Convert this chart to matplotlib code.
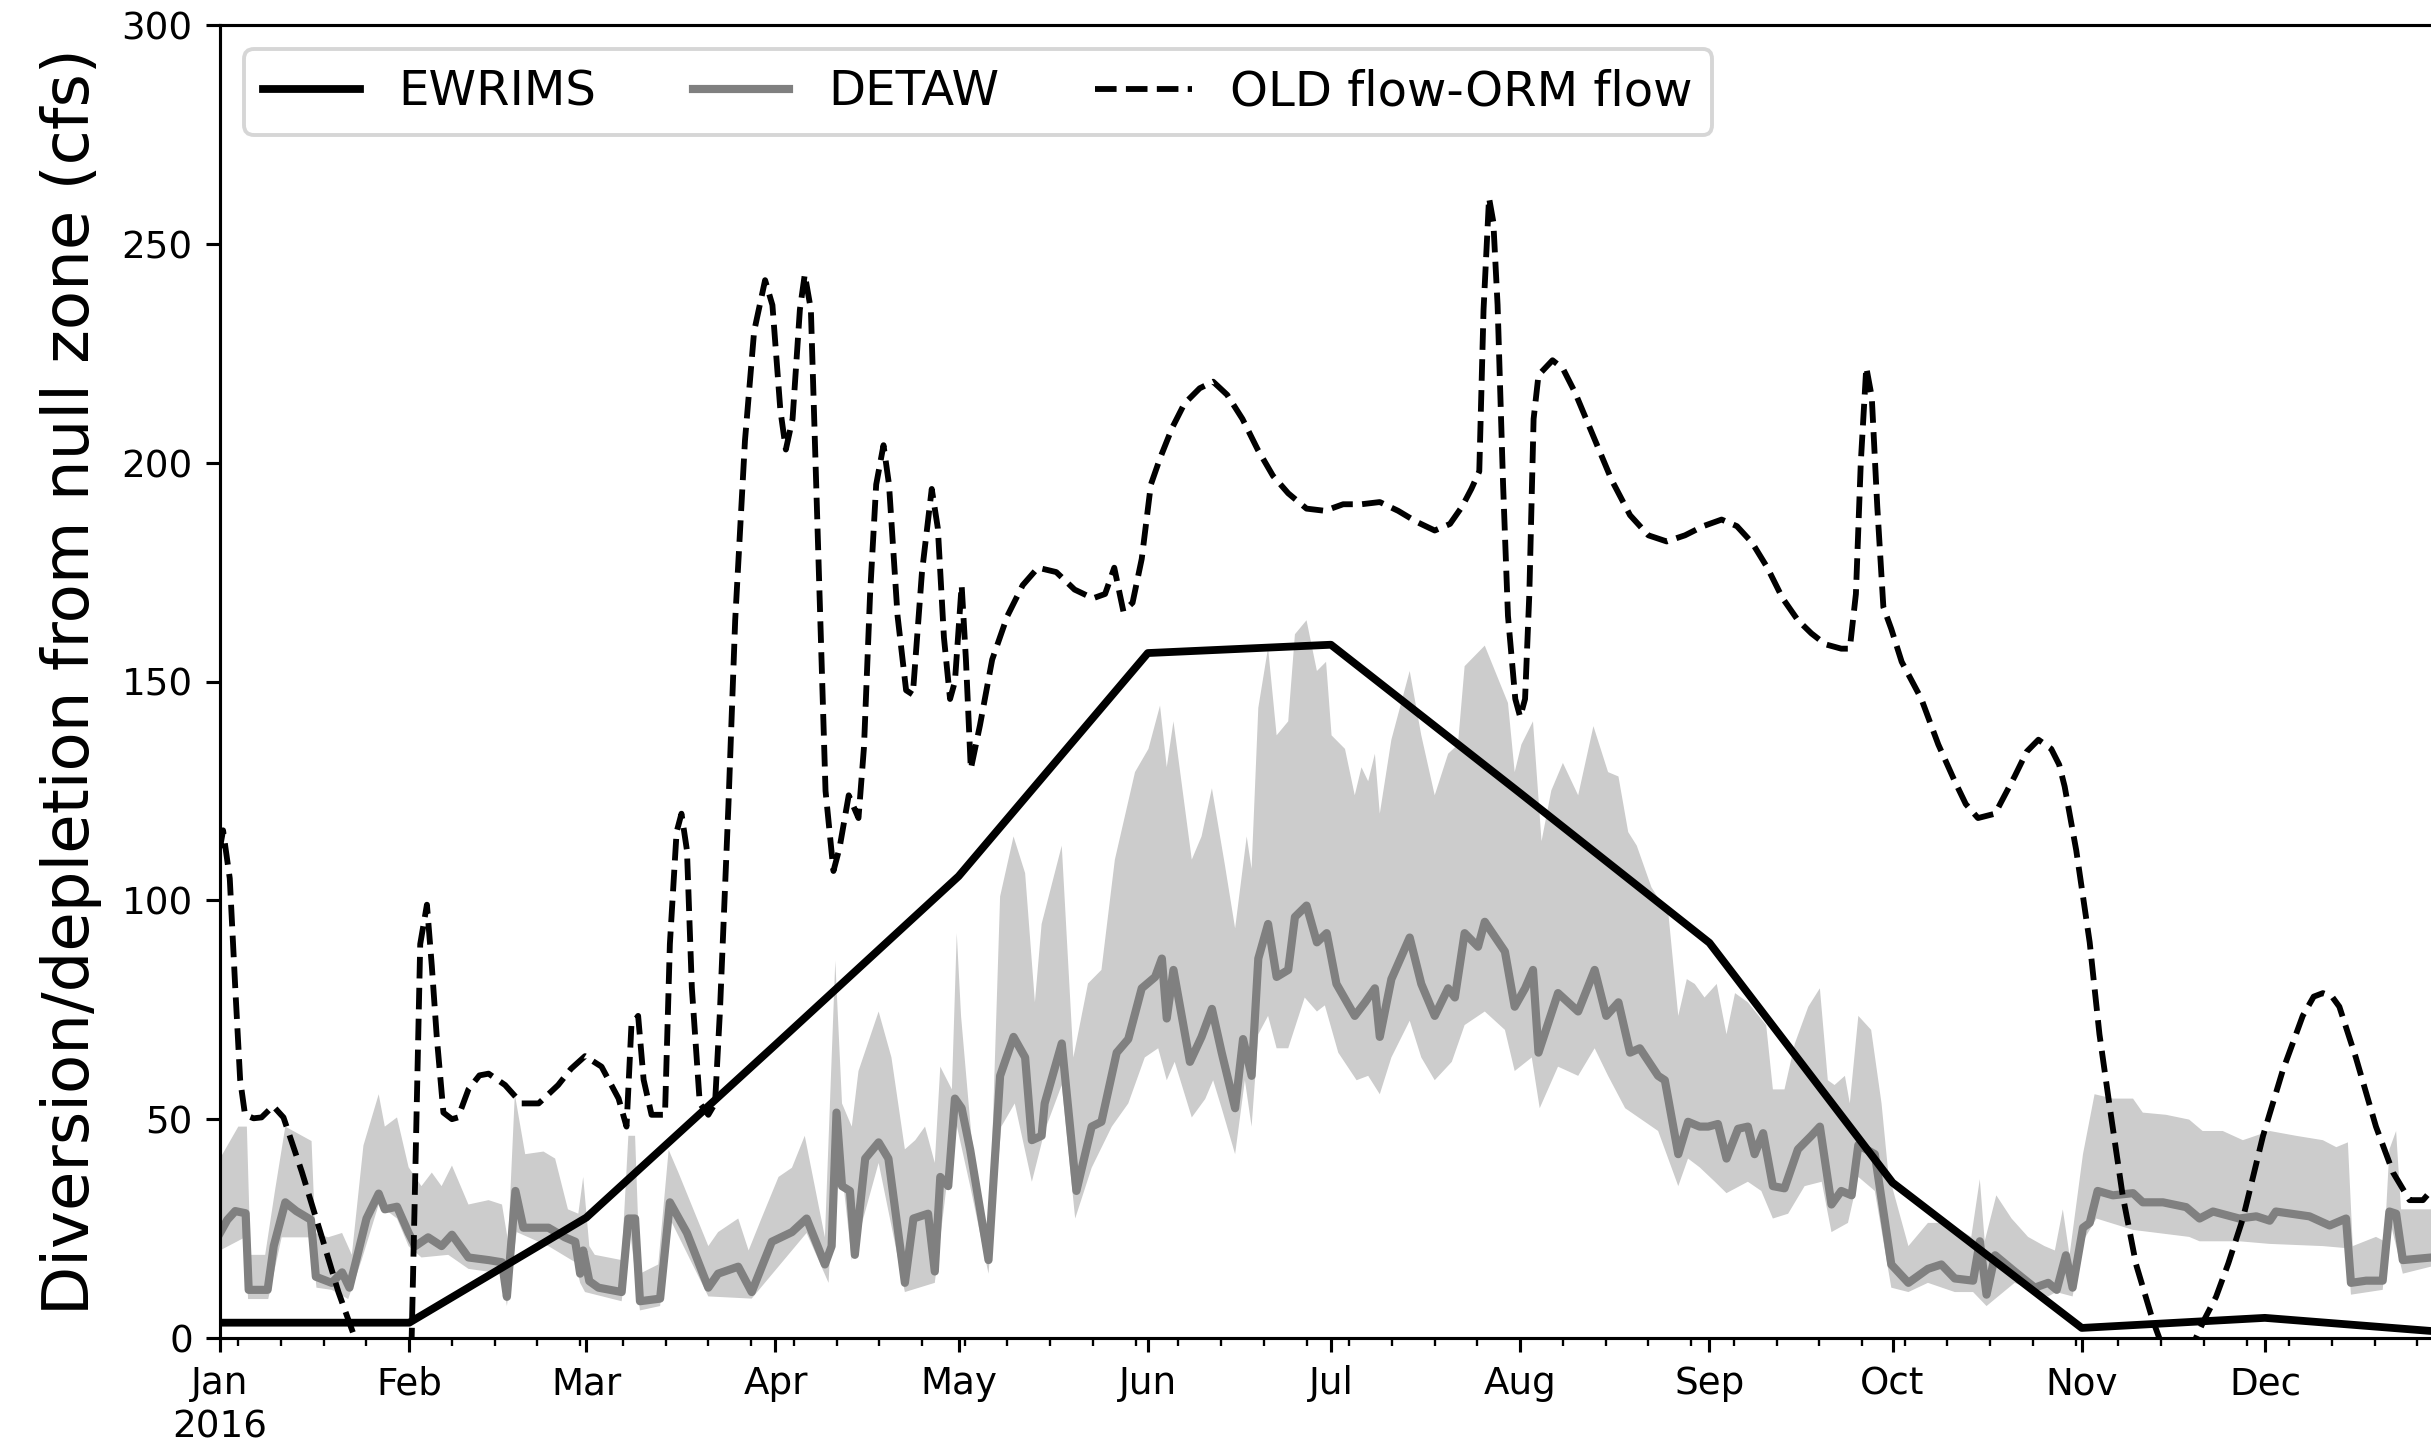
import numpy as np
import matplotlib
matplotlib.use("Agg")
import matplotlib.pyplot as plt
import matplotlib.dates as mdates

# x values are days after 2016-01-01, y values in cfs

# EWRIMS monthly diversion
ewrims_days = [0, 31, 60, 91, 121, 152, 182, 213, 244, 274, 305, 335, 365]
ewrims_cfs = [3.5, 3.5, 27.5, 67, 105.5, 156.5, 158.4, 124.5, 90.3, 35.5, 2.3, 4.6, 1.3]

# DETAW daily depletion (median line)
detaw_days = [0, 1.2, 2.5, 4.2, 4.7, 7.8, 8.8, 10.7, 12.5, 14.9, 15.7, 18.3, 20, 21.2,
              22.7, 24, 26, 27, 29, 30.9, 32, 34.1, 36.3, 38, 40.7, 44, 46.2, 47, 48.4,
              49.7, 53.8, 56.5, 58.2, 59, 59.5, 60.5, 62, 65.8, 66.9, 68, 68.8, 72.1,
              73.7, 76.5, 80, 81.6, 84.9, 87.1, 90.4, 93.7, 96.1, 99.1, 100.2, 101,
              101.9, 103.2, 104, 105.7, 107.9, 109.5, 112.2, 113.6, 116, 117.1, 118,
              119.3, 120.4, 121.5, 122.9, 125.9, 127.8, 130, 131.9, 133, 134.6, 135.1,
              137.9, 140.3, 142.8, 144.4, 146.9, 148.8, 151, 153.2, 154.3, 155.1, 156.2,
              158.9, 160.8, 162.5, 164.1, 166.3, 167.6, 169, 170.1, 171.7, 173.1, 175,
              176.1, 178, 179.7, 181.3, 182.9, 185.9, 187.6, 189.2, 190, 191.9, 194.9,
              196.8, 199, 201.2, 202.3, 203.9, 206.1, 207.2, 210.5, 212.1, 213.8, 215.1,
              216, 219.2, 222.5, 225.2, 227.1, 229.1, 231, 232.6, 235.6, 236.7, 238.9,
              240.5, 242.4, 243.8, 245.4, 246.8, 248.7, 250.3, 251.4, 252.8, 254.4,
              256.3, 258.5, 260.7, 262.1, 264, 265.6, 267.3, 268.4, 271.1, 273.8, 276.6,
              279.8, 282, 284.2, 287.2, 288.3, 289.4, 290.8, 294, 297.3, 299.5, 300.9,
              302.4, 303.5, 305.2, 306.3, 307.6, 310.1, 313.4, 315, 318.3, 322.1, 324.3,
              326.5, 330.8, 333.6, 335.8, 336.8, 342.3, 345.6, 348.3, 349.1, 351.6,
              354.3, 355.4, 356.5, 357.6, 362.2, 365]
detaw_cfs = [24, 27, 29, 28.5, 11, 11, 21, 31, 29, 27, 14, 12.6, 15, 11.5,
             20, 27.3, 33, 29.4, 30, 24, 21, 23, 21, 23.6, 18.4, 17.8, 17.3, 9.4, 33.6,
             25.2, 25.2, 23, 22, 14.7, 20, 13, 11.5, 10.5, 27.3, 27.3, 8.4, 9,
             31, 24, 11.5, 14.7, 16.3, 10.5, 22, 24.2, 27.3, 16.8, 21, 51.5,
             34.7, 33.6, 19, 41, 44.7, 41, 12.6, 27.3, 28.4, 15.2, 36.8,
             34.7, 54.7, 52.5, 43, 17.8, 59.9, 68.8, 64.1, 45.2, 46.2, 53.6,
             67.3, 33.6, 48.3, 49.4, 65.2, 68.3, 79.9, 82.5, 86.7, 73, 84.1,
             63.1, 68.8, 75.2, 65.2, 52.5, 68.3, 59.9, 86.7, 94.6, 82.5, 84.1,
             96.2, 98.8, 90.4, 92.5, 80.9, 73.6, 76.7, 79.9, 68.8, 82, 91.5,
             80.9, 73.6, 79.9, 77.8, 92.5, 89.4, 95.1, 88.3, 75.7, 79.9, 84.1,
             65.2, 78.8, 74.6, 84.1, 73.6, 76.7, 65.2, 66.2, 59.9, 58.9, 42,
             49.4, 48.3, 48.3, 48.9, 41, 47.8, 48.3, 42, 46.8, 34.7,
             34.2, 43.1, 46.2, 48.3, 30.5, 33.6, 32.6, 44.1, 42, 16.8, 12.6,
             15.8, 16.8, 13.6, 13.1, 22.1, 9.9, 18.9, 15.2, 11.5, 12.6, 11,
             18.9, 11.5, 25.2, 26.3, 33.6, 32.6, 33.1, 31, 31, 29.9, 27.3,
             28.9, 27.3, 27.8, 26.8, 28.9, 27.8, 25.7, 27.3, 12.6, 13.1,
             13.1, 28.9, 28.4, 17.8, 18.4, 18.5]

# DETAW range, upper edge
band_hi_days = [0, 3, 4.4, 5, 7.4, 9, 10.7, 15, 15.6, 17.7, 20, 21.6, 23.5, 26, 27, 29,
                30.9, 33, 34.7, 36.3, 38, 40.7, 44, 46.2, 47.2, 48.3, 50, 53, 54.9, 57,
                58.7, 59.5, 60.5, 61.4, 65.8, 66.9, 68, 68.8, 71.8, 73.5, 75.1, 80,
                81.6, 84.9, 86.6, 88.7, 91.5, 93.7, 95.8, 99.1, 100.8, 101.9, 103.5,
                104.6, 107.9, 110, 112.2, 113.9, 115.5, 117.1, 118, 119.9, 120.7, 121.4,
                123.1, 125.9, 127.8, 130, 131.9, 133.5, 134.6, 137.9, 139.8, 142.2,
                144.4, 146.6, 149.9, 152.1, 154, 155.1, 156.2, 159.2, 160.8, 162.5,
                164.6, 166.3, 168.2, 169, 170.1, 171.7, 173.1, 175, 176.1, 178, 179.7,
                181.2, 182.1, 184.3, 185.9, 187, 188.1, 189.2, 190, 191.9, 194.9, 196.8,
                199, 201.2, 202.8, 203.9, 207.2, 211, 212.1, 213.2, 215.1, 216.5, 218.1,
                220, 222.5, 225, 227.4, 229.1, 230.7, 232.1, 234.5, 237.3, 238.9, 240.3,
                241.6, 243.2, 245.2, 246.8, 248.2, 250.3, 253.3, 254.4, 256.3, 258,
                260.2, 262.1, 263.4, 264.5, 266.2, 267, 268.4, 270.5, 272.2, 273.3,
                276.6, 279.8, 283.1, 286.9, 288.3, 289.1, 291, 293.5, 296.2, 298.9,
                300.6, 301.9, 303, 305.2, 307.1, 310.1, 313.4, 315, 318.8, 322.6, 324.8,
                328.1, 331.4, 335.8, 340.1, 344.5, 346.7, 348.6, 349.4, 353.2, 354.6,
                355.4, 356.5, 357.3, 362.2, 365]
band_hi = [41, 48.3, 48.3, 19, 19, 33.6, 48.3, 45, 24, 23, 24, 19, 44, 55.7, 48.3, 50.4,
           39, 34.7, 37.8, 34.7, 39.4, 30.5, 31.5, 30.5, 22, 55.7, 42, 42.6, 41, 29.4,
           28.4, 36.8, 21, 19, 17.8, 46.2, 46.2, 14.7, 16.8, 43, 37.8, 21,
           24.2, 27.3, 20, 27.3, 36.8, 38.9, 46.2, 23, 86.2, 53.6, 48.3,
           61, 74.6, 64.1, 43.1, 45.2, 48.3, 40, 62, 56.8, 92.5, 73.6,
           46.2, 17.8, 100.9, 114.6, 106.2, 76.7, 94.6, 112.5, 64.1, 81,
           84.1, 109.3, 129.3, 134.6, 144.5, 130.4, 140.9, 109.3, 114.6, 125.6,
           108.3, 93.6, 114.6, 107.2, 144, 157.7, 137.7, 140.9, 160.8, 164, 152.4,
           154.5, 137.7, 134.6, 124, 130.4, 127.2, 133.5, 119.8, 136.7, 152.4, 137.7,
           124, 133.5, 135.6, 153.5, 158.2, 145.1, 129.3, 135.6, 140.9, 113.5, 125.1,
           131.4, 124, 139.8, 129.3, 128.3, 115.6, 112.5, 103, 96.7, 73.6, 82,
           80.9, 77.8, 80.9, 69.4, 78.8, 76.7, 71.5, 56.8, 56.8, 67.3,
           75.7, 79.9, 58.9, 57.8, 59.9, 53.6, 73.6, 70.4, 53.6, 37.8,
           21, 26.3, 26.3, 23.1, 36.3, 22.1, 32.6, 27.3, 23.1, 21,
           20, 29.4, 18.9, 42, 55.7, 54.7, 54.7, 51.5, 51, 49.9, 47.3,
           47.3, 45.2, 47.3, 46.2, 45.2, 43.6, 44.7, 21, 23.1, 22.1,
           43.1, 47.3, 29.4, 29.4, 29.4]

# DETAW range, lower edge
band_lo_days = [0, 4.1, 4.6, 7.9, 10.1, 15, 15.8, 18.3, 21, 23.2, 26, 29, 30.9, 33, 37.4,
                40.7, 46.2, 47, 48.6, 53.8, 58.2, 59, 59.8, 65.8, 67.2, 68.8, 72.1, 73.7,
                80, 87.1, 93.7, 96.1, 99.7, 101, 103.5, 107.9, 112.2, 117.1, 120.4,
                122.9, 125.9, 128, 130.2, 133, 135.1, 137.9, 140.1, 142.8, 146.1, 148.8,
                151.5, 153.7, 155.1, 156.4, 159.2, 161.4, 162.7, 164.1, 166.3, 167.9,
                169, 170.1, 171.7, 173.1, 175, 177.7, 179.7, 181, 183.2, 186.2, 188.1,
                190, 191.9, 194.9, 196.8, 199, 201.8, 203.9, 207.2, 210.5, 212.1, 214.9,
                216.2, 219.2, 222.5, 225.2, 227.4, 230.2, 235.6, 238.9, 240.5, 242.4,
                244.9, 246.8, 250.3, 252.5, 254.4, 256.9, 259.6, 262.4, 264, 266.7,
                268.4, 271.1, 273.8, 276.6, 279.8, 284.2, 287.2, 289.4, 294, 299.5,
                300.8, 303.5, 305.2, 307.4, 313.4, 322.6, 324.3, 330.8, 335.8, 344.5,
                348.6, 349.1, 354.3, 355.4, 357.6, 362.2, 365]
band_lo = [20, 23, 8.9, 8.9, 23, 23, 11.5, 11, 8.9, 17.8, 30.5, 27.3, 21, 18.4, 19,
           15.8, 14.7, 7.3, 24.2, 21, 17.3, 12.6, 10.5, 8.4, 24, 6.3, 7.3, 27.3,
           9.5, 9, 20, 24, 12.6, 49.4, 17.8, 40, 10.5, 12.6, 50.4,
           34.7, 14.7, 48.3, 53.6, 35.7, 47.3, 57.8, 27.3, 38.9, 48.3, 53.6,
           64.1, 66.2, 58.9, 63.1, 50.4, 54.6, 58.9, 52.5, 42, 58.9,
           48.3, 69.4, 73.6, 66.2, 66.2, 77.8, 74.6, 76, 65.2, 58.9, 59.9,
           55.7, 64.1, 72.5, 64.1, 58.9, 63.1, 71.5, 74.6, 70.4, 61, 64.1,
           52.5, 62, 59.9, 66.2, 59.9, 52.5, 47.3, 34.7, 41, 39,
           35.7, 33.1, 35.7, 33.6, 27.3, 28.4, 34.7, 35.7, 24.2, 26.3,
           36.8, 33.6, 11.5, 10.5, 12.6, 10.5, 10.5, 7.3, 12.6, 9.5,
           10.5, 9.5, 22.1, 27.3, 24.7, 23.1, 22.1, 22.1, 21.5, 21,
           20.5, 9.9, 11, 27.3, 14.7, 16.3, 16.3]

# OLD flow minus ORM flow
old_days = [0, 0.5, 1.6, 2.5, 3.3, 4.1, 5.5, 6.8, 8.7, 10.4, 13.4, 16.7, 19.4, 22.1, 24,
            27, 30, 31.4, 32, 32.8, 33.9, 34.7, 35.5, 36.6, 38, 39, 40.7, 42.5, 44, 46.7,
            49.4, 52.2, 55.4, 57.5, 59.8, 62.5, 65.3, 66.6, 67.4, 68.5, 69.4, 70.7,
            72.9, 73.7, 74.8, 75.6, 76.5, 77.3, 78.6, 80, 81.1, 81.9, 83.3, 84.4, 86,
            87.5, 89.3, 90.5, 91.8, 92.7, 93.8, 95, 95.8, 96.8, 98, 99.2, 100.5, 101.5,
            103, 104.6, 105.5, 106.5, 107.5, 108.7, 109.6, 111, 112.4, 113.5, 115,
            116.6, 117.6, 118.6, 119.6, 120.4, 121.5, 122.2, 123, 124.5, 126.5, 129,
            131.5, 134, 137, 140, 143, 145, 146.5, 148, 149.5, 151, 152.5, 154, 156,
            158, 160.5, 162.7, 165, 167.5, 170, 172.5, 175, 178, 181, 184, 187, 190,
            193, 196, 199, 201.5, 203.5, 205, 206.3, 207, 207.9, 208.6, 209.3, 210.2,
            211, 212.2, 213, 213.8, 214.5, 215.2, 216, 218.3, 220, 222, 225, 228, 231,
            234, 237, 240, 243, 246, 248.5, 251, 253.5, 256, 258.5, 260.7, 263, 265.6,
            267, 268, 268.8, 269.7, 270.6, 271.5, 272.5, 273.8, 275.5, 278.7, 281.5,
            284.2, 286, 288, 290.8, 294, 296, 297.9, 300, 301.3, 302.2, 304.1, 306.3,
            307.9, 309.5, 311.7, 313.9, 316.6, 317.7, 319.5, 321, 322.5, 323.7, 325,
            327, 329, 331.4, 334.7, 337.9, 341.2, 343, 344.5, 346, 347.2, 349.9, 353.2,
            356, 358.7, 360.9, 362.2, 364, 365]
old_cfs = [112, 116, 105, 80, 59, 51, 50.2, 50.4, 53, 50.4, 38, 23, 10.5, 0, -12,
           -18, -8, 0, 38, 90, 99, 85, 69, 51.5, 50, 50.4, 56.8, 60, 60.4, 57.8,
           53.6, 53.6, 57.8, 61.5, 64.4, 62, 54.7, 48.3, 71.5, 73.6, 59, 51,
           51, 90, 115.6, 119.8, 111.4, 80, 53.6, 51, 53.6, 74.6, 122, 164, 205,
           230, 241.7, 236, 212, 203, 210, 235, 243, 235, 180, 125, 106.7, 112,
           124, 118.8, 135, 170, 195, 204, 195, 165, 148, 147, 175,
           194, 185, 160, 146, 150, 172, 155, 130, 140, 155, 165,
           172, 176, 175, 171, 169, 170, 176, 166, 168, 178, 195, 201, 208,
           213.5, 217, 218.5, 215.5, 210, 203, 197, 193, 189.5, 189, 190.5, 190.5, 191,
           189, 186.5, 184.5, 186, 190, 194, 198, 235, 260.5, 255, 236, 195,
           165, 146, 141.9, 146, 170, 210, 220, 223.4, 221.5, 216, 206, 196, 188,
           183.4, 182, 183.4, 185.5, 187, 185.5, 181.7, 176, 169, 164, 161, 158.5, 157.5,
           157.5, 170, 200, 221.8, 215, 190, 167, 162, 154.5, 146.1, 135.6,
           127.2, 122, 118.8, 119.8, 128.3, 134, 136.7, 134.6, 131, 126, 111.4, 90.4,
           69.4, 53.6, 32.6, 16.8, 4.2, 0, -8, -10, -6, 0, 4,
           9.4, 17, 27.3, 46.2, 61, 73.6, 78, 78.8, 78, 75.7, 64.1, 48.3,
           37.8, 31.5, 31.5, 33.6, 37, 39]

month_days = [0, 31, 60, 91, 121, 152, 182, 213, 244, 274, 305, 335]
month_labels = ["Jan\n2016", "Feb", "Mar", "Apr", "May", "Jun", "Jul", "Aug",
                "Sep", "Oct", "Nov", "Dec"]

t0 = mdates.date2num(np.datetime64("2016-01-01"))


def to_date(days):
    return t0 + np.asarray(days, dtype=float)


W, H, DPI = 2431, 1453, 280
fig = plt.figure(figsize=(W / DPI, H / DPI), dpi=DPI)
# the axes run a little past the right edge of the picture, as in the original
ax = fig.add_axes([220 / W, 1 - 1338 / H, 2228 / W, (1338 - 25) / H])

band_x = np.concatenate([to_date(band_hi_days), to_date(band_lo_days)[::-1]])
band_y = np.concatenate([band_hi, band_lo[::-1]])
ax.fill(band_x, band_y, color="0.8", lw=0, zorder=1)

ax.plot(to_date(ewrims_days), ewrims_cfs, color="k", lw=2, label="EWRIMS", zorder=3)
ax.plot(to_date(detaw_days), detaw_cfs, color="0.5", lw=2.1, label="DETAW", zorder=2)
ax.plot(to_date(old_days), old_cfs, color="k", ls="--", lw=1.5,
        label="OLD flow-ORM flow", zorder=4)

ax.xaxis_date()
ax.set_xlim(to_date(0), to_date(365))
ax.set_ylim(0, 300)
ax.set_xticks(to_date(month_days))
ax.set_xticklabels(month_labels)
ax.xaxis.set_minor_locator(mdates.WeekdayLocator(byweekday=mdates.MO))
ax.set_yticks(np.arange(0, 301, 50))
ax.tick_params(axis="both", which="major", labelsize=9.6)

ax.set_ylabel("Diversion/depletion from null zone (cfs)", fontsize=16.5, labelpad=5)
ax.legend(loc="upper left", ncol=3, fontsize=12.4)

fig.savefig("out.png", dpi=DPI)
